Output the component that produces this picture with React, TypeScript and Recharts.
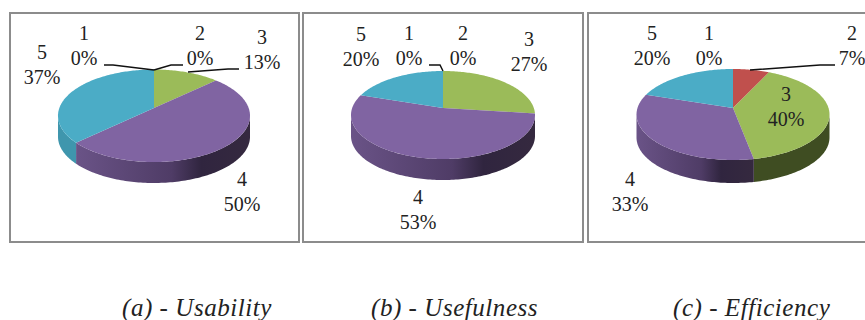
import React from "react";
import { PieChart, Pie, Cell } from "recharts";

// Share of answers per rating, in percent, for each survey dimension.
const ratings = ["1", "2", "3", "4", "5"];
const usability = [0, 0, 13, 50, 37];
const usefulness = [0, 0, 27, 53, 20];
const efficiency = [0, 7, 40, 33, 20];

const topColors = ["#4F81BD", "#C0504D", "#9BBB59", "#8064A2", "#4BACC6"];
const sideColors = ["#2F4D71", "#7A3230", "#3F4D22", "url(#purpleWall)", "#3F96AD"];

type Placement = { x: number; y: number; line?: string };
type PieLayout = {
  id: string;
  values: number[];
  caption: string;
  captionX: number;
  frame: { left: number; top: number; width: number; height: number };
  apexX: number;
  apexY: number;
  halfWidth: number;
  rise: number;
  drop: number;
  depth: number;
  labels: Placement[];
};

const layouts: PieLayout[] = [
  {
    id: "usability",
    values: usability,
    caption: "(a) - Usability",
    captionX: 122,
    frame: { left: 9, top: 12, width: 291, height: 231 },
    apexX: 154,
    apexY: 108,
    halfWidth: 96,
    rise: 38.5,
    drop: 54,
    depth: 21,
    labels: [
      { x: 84, y: 40, line: "104,65 113,65 154,70" },
      { x: 200, y: 40, line: "183,65 171,65 154,70" },
      { x: 262, y: 44, line: "239,69 228,69 188,72" },
      { x: 242, y: 186 },
      { x: 42, y: 59 },
    ],
  },
  {
    id: "usefulness",
    values: usefulness,
    caption: "(b) - Usefulness",
    captionX: 371,
    frame: { left: 302, top: 12, width: 282, height: 231 },
    apexX: 443,
    apexY: 108,
    halfWidth: 92,
    rise: 37,
    drop: 51,
    depth: 21,
    labels: [
      { x: 409, y: 40, line: "429,65 440,65 443,71" },
      { x: 463, y: 40 },
      { x: 529, y: 46 },
      { x: 418, y: 204 },
      { x: 361, y: 41 },
    ],
  },
  {
    id: "efficiency",
    values: efficiency,
    caption: "(c) - Efficiency",
    captionX: 673,
    frame: { left: 587, top: 12, width: 290, height: 231 },
    apexX: 733,
    apexY: 108,
    halfWidth: 96.5,
    rise: 39,
    drop: 52,
    depth: 23,
    labels: [
      { x: 709, y: 40 },
      { x: 852, y: 40, line: "835,65 820,65 750,70" },
      { x: 786, y: 101 },
      { x: 630, y: 186 },
      { x: 652, y: 40 },
    ],
  },
];

// A tilted disc: angle is measured clockwise from the top of the pie and the
// far edge is foreshortened, which keeps the rim an ellipse on screen.
function projector(p: PieLayout) {
  const k = (p.drop - p.rise) / (p.drop + p.rise);
  const bx = p.halfWidth * Math.sqrt(1 - k * k);
  const by = p.rise * (1 + k);
  const rim = (theta: number): [number, number] => {
    const u = Math.sin(theta);
    const v = Math.cos(theta);
    const s = 1 / (1 + k * v);
    return [p.apexX + bx * u * s, p.apexY - by * v * s];
  };
  return { rim, turn: Math.acos(-k) };
}

function arcPoints(rim: (t: number) => [number, number], from: number, to: number) {
  const steps = Math.max(2, Math.ceil((to - from) / 0.02));
  const pts: [number, number][] = [];
  for (let i = 0; i <= steps; i++) pts.push(rim(from + ((to - from) * i) / steps));
  return pts;
}

const toPath = (pts: [number, number][]) =>
  pts.map((q, i) => `${i ? "L" : "M"}${q[0].toFixed(2)},${q[1].toFixed(2)}`).join("") + "Z";

function TiltedSector(props: any, p: PieLayout) {
  const { startAngle, endAngle, index } = props;
  const from = ((90 - startAngle) * Math.PI) / 180;
  const to = ((90 - endAngle) * Math.PI) / 180;
  if (to - from < 1e-6) return <g />;
  const { rim, turn } = projector(p);
  const top = arcPoints(rim, from, to);
  const a = Math.max(from, turn);
  const b = Math.min(to, 2 * Math.PI - turn);
  let wall = null;
  if (b > a) {
    const edge = arcPoints(rim, a, b);
    const lowered = edge.map(([x, y]) => [x, y + p.depth] as [number, number]).reverse();
    wall = <path d={toPath([...edge, ...lowered])} fill={sideColors[index]} />;
  }
  return (
    <g>
      {wall}
      <path d={toPath([[p.apexX, p.apexY], ...top])} fill={topColors[index]} />
    </g>
  );
}

function RatingLabel(props: any, p: PieLayout) {
  const { index, value } = props;
  const at = p.labels[index];
  return (
    <g key={index}>
      {at.line && <polyline points={at.line} fill="none" stroke="#111" strokeWidth={1.5} />}
      <text x={at.x} y={at.y} textAnchor="middle" fontFamily="Liberation Serif" fontSize={20} fill="#222">
        <tspan x={at.x}>{ratings[index]}</tspan>
        <tspan x={at.x} dy={25}>{`${value}%`}</tspan>
      </text>
    </g>
  );
}

function RatingPie({ layout }: { layout: PieLayout }) {
  const rows = ratings.map((name, i) => ({ name, value: layout.values[i] }));
  return (
    <div style={{ position: "absolute", left: 0, top: 0 }}>
      <PieChart width={865} height={320} margin={{ top: 0, right: 0, bottom: 0, left: 0 }}>
        <defs>
          <linearGradient id="purpleWall" x1="0" y1="0" x2="1" y2="0">
            <stop offset="0" stopColor="#6A5387" />
            <stop offset="0.55" stopColor="#4F3C66" />
            <stop offset="0.72" stopColor="#30253F" />
            <stop offset="1" stopColor="#35293F" />
          </linearGradient>
        </defs>
        <Pie
          data={rows}
          dataKey="value"
          nameKey="name"
          cx={layout.apexX}
          cy={layout.apexY}
          outerRadius={layout.halfWidth}
          startAngle={90}
          endAngle={-270}
          stroke="none"
          isAnimationActive={false}
          shape={(s: any) => TiltedSector(s, layout)}
          label={(l: any) => RatingLabel(l, layout)}
          labelLine={false}
        >
          {rows.map((r) => (
            <Cell key={r.name} fill={topColors[ratings.indexOf(r.name)]} />
          ))}
        </Pie>
      </PieChart>
    </div>
  );
}

export default function App() {
  return (
    <div style={{ position: "absolute", left: 0, top: 0, width: 865, height: 320, background: "#fff", overflow: "hidden" }}>
      {layouts.map((p) => (
        <div
          key={p.id}
          style={{
            position: "absolute",
            left: p.frame.left,
            top: p.frame.top,
            width: p.frame.width,
            height: p.frame.height,
            border: "2px solid #8C8C8C",
            boxSizing: "border-box",
          }}
        />
      ))}
      {layouts.map((p) => (
        <RatingPie key={p.id} layout={p} />
      ))}
      {layouts.map((p) => (
        <div
          key={p.id + "-caption"}
          style={{
            position: "absolute",
            left: p.captionX,
            top: 294,
            fontFamily: "Liberation Serif",
            fontStyle: "italic",
            fontSize: 25,
            lineHeight: "28px",
            letterSpacing: 0.55,
            whiteSpace: "nowrap",
            color: "#222",
          }}
        >
          {p.caption}
        </div>
      ))}
    </div>
  );
}
